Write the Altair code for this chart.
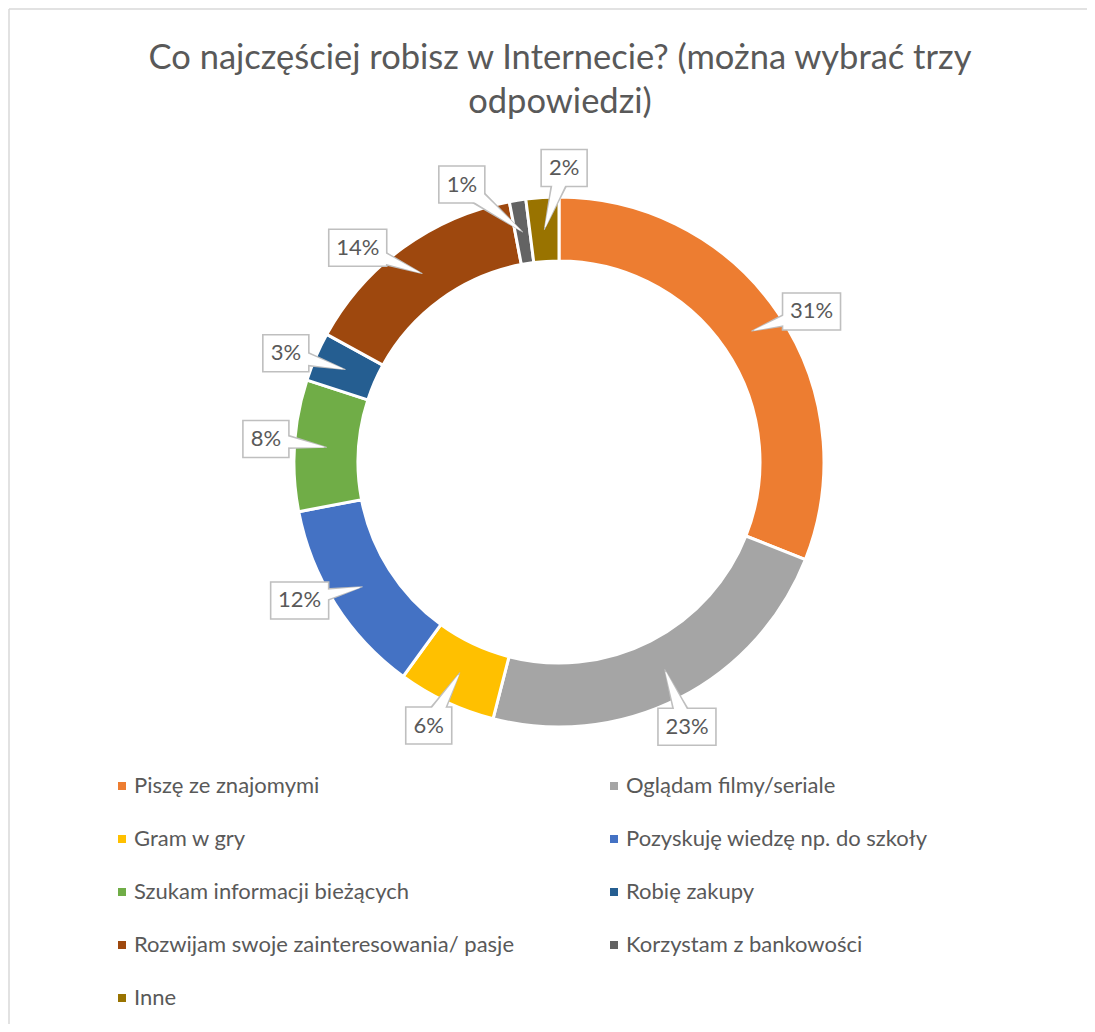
import math
import altair as alt
import pandas as pd

# ---------------- data ----------------
categories = [
    "Piszę ze znajomymi",
    "Oglądam filmy/seriale",
    "Gram w gry",
    "Pozyskuję wiedzę np. do szkoły",
    "Szukam informacji bieżących",
    "Robię zakupy",
    "Rozwijam swoje zainteresowania/ pasje",
    "Korzystam z bankowości",
    "Inne",
]
values = [31, 23, 6, 12, 8, 3, 14, 1, 2]
labels = ["31%", "23%", "6%", "12%", "8%", "3%", "14%", "1%", "2%"]
colors = ["#ED7D31", "#A5A5A5", "#FFC000", "#4472C4", "#70AD47",
          "#255E91", "#9E480E", "#636363", "#997300"]
title_text = "Co najczęściej robisz w Internecie? (można wybrać trzy\nodpowiedzi)"

# ---------------- layout ----------------
FONT = "Lato"
TXT = "#595959"
W, H = 1079, 1016
CX, CY = 551, 454
R_IN, R_OUT = 201, 265
R_TIP = (R_IN + R_OUT) / 2
R_LAB = 294
# manual label placement tweaks (degrees), like hand-moved data labels
nudge = [3.4, 1.2, 1.1, 4.3, 0.9, -1.7, -7.2, -10.3, 4.6]
BOX_H = 37

df = pd.DataFrame({"cat": categories, "value": values, "label": labels,
                   "idx": list(range(len(categories)))})
total = sum(values)
start = df["value"].cumsum() - df["value"]
df["mid"] = (start + df["value"] / 2) / total * 360.0

lab_rows, trail_g, trail_w = [], [], []
for i, r in df.iterrows():
    a = math.radians(r["mid"] + nudge[i])
    m = math.radians(r["mid"])
    lx, ly = CX + R_LAB * math.sin(a), CY - R_LAB * math.cos(a)
    tx, ty = CX + R_TIP * math.sin(m), CY - R_TIP * math.cos(m)
    bw = 22 + 12 * len(r["label"])
    lab_rows.append({"label": r["label"], "lx": lx, "ly": ly,
                     "x1": lx - bw / 2, "x2": lx + bw / 2,
                     "y1": ly - BOX_H / 2, "y2": ly + BOX_H / 2})
    trail_g += [{"label": r["label"], "seq": 0, "px": lx, "py": ly, "sz": 22},
                {"label": r["label"], "seq": 1, "px": tx, "py": ty, "sz": 0}]
    d = math.hypot(tx - lx, ty - ly)
    ux, uy = (tx - lx) / d, (ty - ly) / d
    trail_w += [{"label": r["label"], "seq": 0, "px": lx, "py": ly, "sz": 17},
                {"label": r["label"], "seq": 1, "px": tx - 3 * ux, "py": ty - 3 * uy, "sz": 0}]

lab_df = pd.DataFrame(lab_rows)
tg_df = pd.DataFrame(trail_g)
tw_df = pd.DataFrame(trail_w)

xs = alt.Scale(domain=[0, W], nice=False, zero=False)
ys = alt.Scale(domain=[0, H], nice=False, zero=False, reverse=True)

arcs = alt.Chart(df).mark_arc(
    innerRadius=R_IN, outerRadius=R_OUT, stroke="white", strokeWidth=3
).encode(
    theta=alt.Theta("value:Q", stack=True),
    color=alt.Color(
        "cat:N",
        scale=alt.Scale(domain=categories, range=colors),
        legend=alt.Legend(
            orient="none", legendX=103, legendY=767, columns=2, title=None,
            direction="horizontal",
            symbolType="square", symbolSize=64, symbolStrokeWidth=0,
            labelFont=FONT, labelFontSize=22, labelColor=TXT, labelLimit=1000,
            labelOffset=1, columnPadding=89, rowPadding=31, padding=0,
        ),
    ),
    order=alt.Order("idx:Q"),
    x=alt.value(CX), y=alt.value(CY),
)

wedge_gray = alt.Chart(tg_df).mark_trail(color="#bfbfbf").encode(
    x=alt.X("px:Q", scale=xs, axis=None),
    y=alt.Y("py:Q", scale=ys, axis=None),
    size=alt.Size("sz:Q", scale=None, legend=None),
    detail="label:N",
    order="seq:Q",
)

boxes = alt.Chart(lab_df).mark_rect(
    fill="white", stroke="#bfbfbf", strokeWidth=1.6
).encode(
    x=alt.X("x1:Q", scale=xs, axis=None), x2="x2:Q",
    y=alt.Y("y1:Q", scale=ys, axis=None), y2="y2:Q",
)

wedge_white = alt.Chart(tw_df).mark_trail(color="white").encode(
    x=alt.X("px:Q", scale=xs, axis=None),
    y=alt.Y("py:Q", scale=ys, axis=None),
    size=alt.Size("sz:Q", scale=None, legend=None),
    detail="label:N",
    order="seq:Q",
)

lab_text = alt.Chart(lab_df).mark_text(
    font=FONT, fontSize=22, color=TXT, baseline="middle", align="center"
).encode(
    x=alt.X("lx:Q", scale=xs, axis=None),
    y=alt.Y("ly:Q", scale=ys, axis=None),
    text="label:N",
)

title = alt.Chart(pd.DataFrame({"t": [title_text]})).mark_text(
    font=FONT, fontSize=34.5, color=TXT, align="center", baseline="alphabetic",
    lineBreak="\n", lineHeight=44,
).encode(x=alt.value(CX + 1), y=alt.value(61), text="t:N")

one = pd.DataFrame({"a": [0]})
frame_left = alt.Chart(one).mark_rule(color="#d9d9d9", strokeWidth=1.5).encode(
    x=alt.value(1), y=alt.value(1), y2=alt.value(H))
frame_top = alt.Chart(one).mark_rule(color="#d9d9d9", strokeWidth=1.5).encode(
    x=alt.value(1), x2=alt.value(W), y=alt.value(1))

chart = alt.layer(
    arcs, wedge_gray, boxes, wedge_white, lab_text, title, frame_left, frame_top
).properties(
    width=W, height=H, autosize=alt.AutoSizeParams(type="none"), padding=0
).configure_view(stroke=None).resolve_scale(size="independent")

chart.save("out.html", embed_options={"renderer": "svg", "actions": False})
